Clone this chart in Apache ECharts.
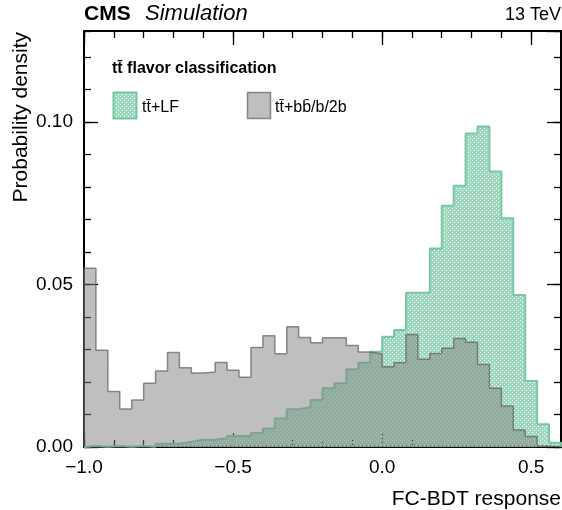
<!DOCTYPE html>
<html><head><meta charset="utf-8">
<script src="https://cdn.jsdelivr.net/npm/echarts@6/dist/echarts.min.js"></script>
<style>html,body{margin:0;padding:0;background:#fff}#c{width:562px;height:510px}</style>
</head><body><div id="c"></div>
<script>
// ---- data ----
const binEdges = [-1.00,-0.96,-0.92,-0.88,-0.84,-0.80,-0.76,-0.72,-0.68,-0.64,
  -0.60,-0.56,-0.52,-0.48,-0.44,-0.40,-0.36,-0.32,-0.28,-0.24,
  -0.20,-0.16,-0.12,-0.08,-0.04,0.00,0.04,0.08,0.12,0.16,
  0.20,0.24,0.28,0.32,0.36,0.40,0.44,0.48,0.52,0.56,0.60];
const lfValues = [0.0003,0.0001,0.0003,0.0001,0.0003,0.0001,0.0010,0.0010,0.0016,0.0022,
  0.0022,0.0027,0.0034,0.0034,0.0043,0.0057,0.0088,0.0116,0.0122,0.0145,
  0.0181,0.0196,0.0239,0.0259,0.0293,0.0339,0.0360,0.0475,0.0475,0.0611,
  0.0742,0.0804,0.0965,0.0986,0.0848,0.0704,0.0468,0.0203,0.0070,0.0013];
const bbValues = [0.0550,0.0298,0.0171,0.0117,0.0145,0.0196,0.0234,0.0291,0.0244,0.0228,
  0.0231,0.0260,0.0236,0.0215,0.0306,0.0342,0.0287,0.0370,0.0337,0.0321,
  0.0336,0.0336,0.0312,0.0292,0.0286,0.0247,0.0259,0.0346,0.0270,0.0288,
  0.0304,0.0334,0.0322,0.0254,0.0181,0.0126,0.0052,0.0032,0.0003,0.0001];
const seriesNames = ['tt\u0304+LF', 'tt\u0304+bb\u0304/b/2b'];
const legendTitle = 'tt\u0304 flavor classification';
const xTitle = 'FC-BDT response';
const yTitle = 'Probability density';

// ---- helpers ----
function histPoints(vals){
  const pts = [[binEdges[0], 0]];
  for (let i = 0; i < vals.length; i++) pts.push([binEdges[i], vals[i]]);
  pts.push([binEdges[vals.length], vals[vals.length-1]]);
  pts.push([binEdges[vals.length], 0]);
  return pts;
}
function makePattern(){
  const c = document.createElement('canvas');
  c.width = 4; c.height = 4;
  const g = c.getContext('2d');
  g.fillStyle = 'rgb(158,217,191)';
  g.fillRect(0,0,4,4);
  g.clearRect(0,0,1,1);
  g.clearRect(2,2,1,1);
  return c;
}
const FONT = '"Liberation Sans", Arial, Helvetica, sans-serif';
const pat = {image: makePattern(), repeat: 'repeat'};
const greenLine = 'rgb(122,198,163)';
const grayFill = 'rgba(128,128,128,0.5)';
const grayLine = 'rgba(95,95,95,0.7)';

function xAx(pos, interval, len, labels){
  return {type:'value', min:-1, max:0.6, interval, position:pos,
    axisLine:{show:true, onZero:false, lineStyle:{color:'#000', width:2}},
    axisTick:{show:true, inside:true, length:len, lineStyle:{color:'#000', width:1.3}},
    splitLine:{show:false},
    axisLabel:{show:labels, showMaxLabel:false, margin:11, color:'#000', fontSize:19, fontFamily:FONT,
      formatter: v => (v < 0 ? '\u2212' : '') + Math.abs(v).toFixed(1)}};
}
function yAx(pos, interval, len, labels){
  return {type:'value', min:0, max:0.128, interval, position:pos,
    axisLine:{show:true, onZero:false, lineStyle:{color:'#000', width:2}},
    axisTick:{show:true, inside:true, length:len, lineStyle:{color:'#000', width:1.3}},
    splitLine:{show:false},
    axisLabel:{show:labels, showMaxLabel:false, margin:11, color:'#000', fontSize:19, fontFamily:FONT,
      formatter: v => v.toFixed(2)}};
}

const chart = echarts.init(document.getElementById('c'), null, {renderer:'canvas'});
chart.setOption({
  animation:false,
  backgroundColor:'#fff',
  grid:{left:84, right:1, top:31, bottom:63, containLabel:false},
  xAxis:[xAx('bottom',0.5,14,true), xAx('bottom',0.1,7,false), xAx('top',0.5,14,false), xAx('top',0.1,7,false)],
  yAxis:[yAx('left',0.05,14,true), yAx('left',0.01,7,false), yAx('right',0.05,14,false), yAx('right',0.01,7,false)],
  series:[
    {name:seriesNames[0], type:'line', step:'end', symbol:'none', xAxisIndex:0, yAxisIndex:0,
     data:histPoints(lfValues), lineStyle:{color:greenLine, width:2}, areaStyle:{color:pat, opacity:1}, z:2},
    {name:seriesNames[1], type:'line', step:'end', symbol:'none', xAxisIndex:0, yAxisIndex:0,
     data:histPoints(bbValues), lineStyle:{color:grayLine, width:1.5}, areaStyle:{color:grayFill, opacity:1}, z:3}
  ],
  graphic:[
    {type:'text', x:84, y:14, style:{text:'CMS', font:'bold 21px '+FONT, fill:'#000', verticalAlign:'middle', align:'left'}},
    {type:'text', x:145, y:14, style:{text:'Simulation', font:'italic 22px '+FONT, fill:'#000', verticalAlign:'middle', align:'left'}},
    {type:'text', x:561, y:15, style:{text:'13 TeV', font:'18px '+FONT, fill:'#000', verticalAlign:'middle', align:'right'}},
    {type:'text', x:561, y:499, style:{text:xTitle, font:'21px '+FONT, fill:'#000', verticalAlign:'middle', align:'right'}},
    {type:'text', x:21.5, y:32, rotation:Math.PI/2, style:{text:yTitle, font:'21px '+FONT, fill:'#000', verticalAlign:'middle', align:'right'}},
    {type:'text', x:112, y:69, style:{text:legendTitle, font:'bold 16px '+FONT, fill:'#000', verticalAlign:'middle', align:'left'}},
    {type:'rect', shape:{x:113.5, y:92.5, width:23, height:26}, style:{fill:pat, stroke:greenLine, lineWidth:2}},
    {type:'text', x:142, y:108, style:{text:seriesNames[0], font:'16px '+FONT, fill:'#000', verticalAlign:'middle', align:'left'}},
    {type:'rect', shape:{x:247.5, y:92.5, width:23, height:26}, style:{fill:grayFill, stroke:grayLine, lineWidth:1.5}},
    {type:'text', x:275, y:108, style:{text:seriesNames[1], font:'16px '+FONT, fill:'#000', verticalAlign:'middle', align:'left'}}
  ]
});
</script></body></html>
